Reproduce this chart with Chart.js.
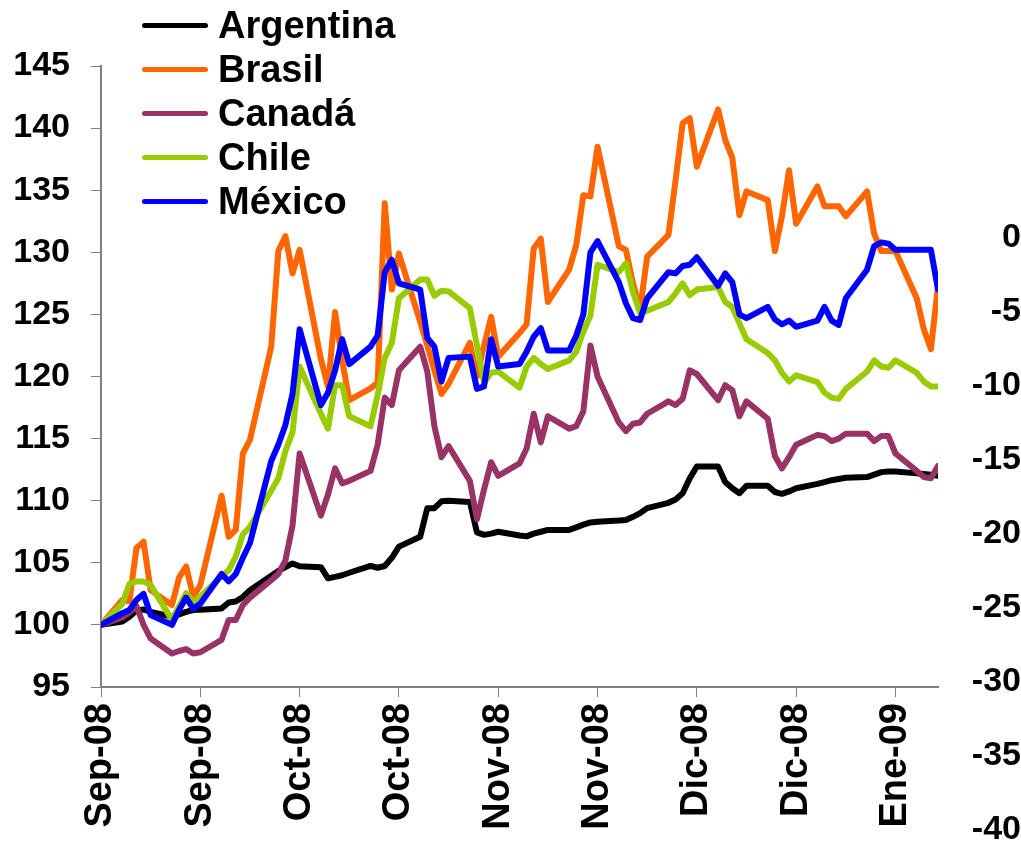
<!DOCTYPE html>
<html>
<head>
<meta charset="utf-8">
<script src="https://cdn.jsdelivr.net/npm/chart.js@4.4.1/dist/chart.umd.min.js"></script>
<style>
  html, body { margin: 0; padding: 0; background: #fff; }
  #wrap { position: relative; width: 1021px; height: 841px; }
  #legend {
    position: absolute; left: 142px; top: 3px;
    font: bold 38px "Liberation Sans", Arial, sans-serif; color: #000;
  }
  #legend .row { display: flex; align-items: center; height: 44px; }
  #legend .swatch { width: 66px; height: 5px; border-radius: 3px; margin-right: 10px; }
</style>
</head>
<body>
<div id="wrap">
  <canvas id="chart"></canvas>
  <div id="legend"></div>
</div>
<script>
// días hábiles desde el 12-sep-2008 (día 0)
const days = [0,3,4,5,6,7,10,11,12,13,14,17,18,19,20,21,24,25,26,27,28,31,32,33,34,35,
  38,39,40,41,42,45,46,47,48,49,52,53,54,55,56,59,60,61,62,63,66,67,68,69,70,
  73,74,75,76,77,80,81,82,83,84,87,88,89,90,91,94,95,96,97,98,
  101,102,103,104,105,108,109,110,111,112,115,116,117,118];

// etiquetas del eje x, cada 14 días
const tickDays = [0,14,28,42,56,70,84,98,112];
const tickLabels = ['Sep-08','Sep-08','Oct-08','Oct-08','Nov-08','Nov-08','Dic-08','Dic-08','Ene-09'];

// eje derecho (sin series)
const rightTicks = [0,-5,-10,-15,-20,-25,-30,-35,-40];

const argentina = [100,
  100.27,100.65,101.15,101.24,101.05, 100.67,100.85,101.05,101.2,101.22,
  101.33,101.8,101.88,102.25,102.8, 103.95,104.35,104.65,104.95,104.72,
  104.65,103.75,103.87,104.0,104.2, 104.75,104.6,104.74,105.4,106.3,
  107.1,109.4,109.4,109.95,110.0, 109.9,107.45,107.25,107.35,107.5,
  107.2,107.13,107.35,107.5,107.65, 107.65,107.85,108.07,108.25,108.3,
  108.4,108.45,108.7,109.0,109.4, 109.83,110.1,110.6,111.8,112.75,
  112.75,111.5,111.0,110.6,111.2, 111.2,110.7,110.55,110.75,111.0,
  111.35,111.5,111.65,111.75,111.85, 111.9,112.1,112.3,112.35,112.35,
  112.2,112.15,112.1,112.0];

const brasil = [100,
  102.0,101.9,106.2,106.7,102.8, 101.6,103.8,104.7,102.3,103.2,
  110.4,107.1,107.65,113.8,114.9, 122.4,130.1,131.3,128.3,130.2,
  121.4,119.2,125.2,121.3,118.1, 119.05,119.5,133.95,127.0,129.9,
  124.4,122.5,120.5,118.6,119.4, 122.7,120.0,122.5,124.8,121.6,
  123.5,124.2,130.3,131.1,126.0, 128.6,130.6,134.6,134.5,138.5,
  130.5,130.2,127.5,125.4,129.65, 131.4,135.8,140.4,140.8,136.9,
  141.5,139.05,137.6,133.0,134.9, 134.2,130.1,132.9,136.6,132.3,
  135.3,133.7,133.7,133.7,132.9, 134.9,131.5,130.1,130.1,130.1,
  126.3,123.8,122.2,127.3];

const canada = [100,
  100.6,101.0,101.5,100.0,98.9, 97.7,97.9,98.05,97.7,97.8,
  98.8,100.4,100.4,101.6,102.2, 103.6,104.1,105.2,108.0,113.8,
  108.8,110.5,112.6,111.4,111.6, 112.4,114.5,118.3,117.7,120.5,
  122.4,120.4,116.0,113.5,114.4, 111.6,108.5,110.9,113.1,112.0,
  113.0,114.2,117.0,114.7,116.8, 115.8,116.0,117.2,122.5,120.0,
  116.3,115.6,116.2,116.3,117.0, 118.0,117.7,118.2,120.5,120.2,
  118.1,119.3,118.9,116.8,118.0, 116.6,113.6,112.6,113.5,114.5,
  115.3,115.2,114.8,115.0,115.4, 115.4,114.8,115.2,115.2,113.8,
  112.4,111.9,111.8,112.8];

const chile = [100,
  101.7,103.3,103.5,103.5,103.2, 100.4,101.5,102.55,101.8,102.3,
  103.9,104.4,105.5,107.3,107.9, 110.8,111.8,114.0,115.5,120.8,
  117.0,115.8,119.3,119.3,116.8, 116.0,118.5,121.5,122.7,126.3,
  127.8,127.8,126.5,126.9,126.85, 125.5,122.5,119.5,120.3,120.4,
  119.1,120.8,121.5,121.0,120.6, 121.3,122.0,123.6,124.9,129.0,
  128.4,129.1,126.8,125.1,125.3, 126.0,126.7,127.5,126.55,127.0,
  127.2,126.0,125.6,124.3,123.0, 121.9,121.3,120.3,119.6,120.1,
  119.55,118.7,118.3,118.2,119.0, 120.4,121.3,120.8,120.7,121.3,
  120.3,119.6,119.2,119.2];

const mexico = [100,
  100.94,101.2,102.0,102.5,100.8, 100.0,101.2,102.2,101.3,101.7,
  104.1,103.5,104.1,105.4,106.6, 113.2,114.5,116.1,118.6,123.8,
  117.7,118.7,120.5,123.0,121.0, 122.4,123.3,128.4,129.4,127.5,
  127.0,123.1,122.4,119.6,121.5, 121.6,119.0,119.2,123.0,120.8,
  121.0,122.0,123.2,123.9,122.1, 122.1,123.3,125.0,130.0,130.9,
  127.6,125.9,124.7,124.55,126.3, 128.4,128.3,128.9,129.0,129.6,
  127.3,128.3,127.6,125.0,124.7, 125.6,124.6,124.2,124.5,124.0,
  124.5,125.6,124.5,124.15,126.3, 128.6,130.5,130.8,130.7,130.2,
  130.2,130.2,130.2,127.0];

const seriesNames = ['Argentina','Brasil','Canadá','Chile','México'];
const seriesColors = ['#000000','#FF6600','#993366','#99CC00','#0000FF'];
const seriesValues = [argentina, brasil, canada, chile, mexico];

Chart.defaults.font.family = '"Liberation Sans", Arial, sans-serif';
Chart.defaults.font.weight = 'bold';
Chart.defaults.color = '#000';

const axisGray = '#808080';

const datasets = seriesNames.map((name, i) => ({
  label: name,
  data: days.map((d, j) => ({ x: d, y: seriesValues[i][j] })),
  borderColor: seriesColors[i],
  backgroundColor: seriesColors[i],
  borderWidth: 6,
  borderJoinStyle: 'round',
  borderCapStyle: 'round',
  pointRadius: 0,
  tension: 0,
  fill: false,
  order: seriesNames.length - i   // México encima, como en Excel
}));

new Chart(document.getElementById('chart'), {
  type: 'line',
  data: { datasets },
  options: {
    responsive: true,
    maintainAspectRatio: false,
    animation: false,
    layout: { padding: { top: 66, left: 0, right: 0, bottom: 0 } },
    plugins: { legend: { display: false }, tooltip: { enabled: false } },
    scales: {
      x: {
        type: 'linear',
        min: 0,
        max: 118,
        afterBuildTicks: (scale) => { scale.ticks = tickDays.map(v => ({ value: v })); },
        afterFit: (scale) => { scale.height = 154; },
        ticks: {
          autoSkip: false,
          minRotation: 90,
          maxRotation: 90,
          padding: 6,
          font: { size: 38, weight: 'bold' },
          callback: (v) => tickLabels[tickDays.indexOf(v)]
        },
        grid: { drawOnChartArea: false, tickLength: 10, color: axisGray },
        border: { color: axisGray, width: 2 }
      },
      y: {
        position: 'left',
        min: 95,
        max: 145,
        afterFit: (scale) => { scale.width = 101; },
        ticks: { stepSize: 5, padding: 21, font: { size: 34, weight: 'bold' } },
        grid: { drawOnChartArea: false, tickLength: 10, color: axisGray },
        border: { color: axisGray, width: 2 }
      },
      y2: {
        position: 'right',
        min: -30.34,
        max: 11.62,
        afterBuildTicks: (scale) => { scale.ticks = rightTicks.map(v => ({ value: v })); },
        afterFit: (scale) => { scale.width = 83; },
        ticks: { autoSkip: false, crossAlign: 'far', font: { size: 34, weight: 'bold' } },
        grid: { display: false },
        border: { display: false }
      }
    }
  }
});

// leyenda en HTML, construida con los mismos nombres y colores
const legend = document.getElementById('legend');
seriesNames.forEach((name, i) => {
  const row = document.createElement('div');
  row.className = 'row';
  const sw = document.createElement('span');
  sw.className = 'swatch';
  sw.style.background = seriesColors[i];
  const txt = document.createElement('span');
  txt.textContent = name;
  row.appendChild(sw);
  row.appendChild(txt);
  legend.appendChild(row);
});
</script>
</body>
</html>
